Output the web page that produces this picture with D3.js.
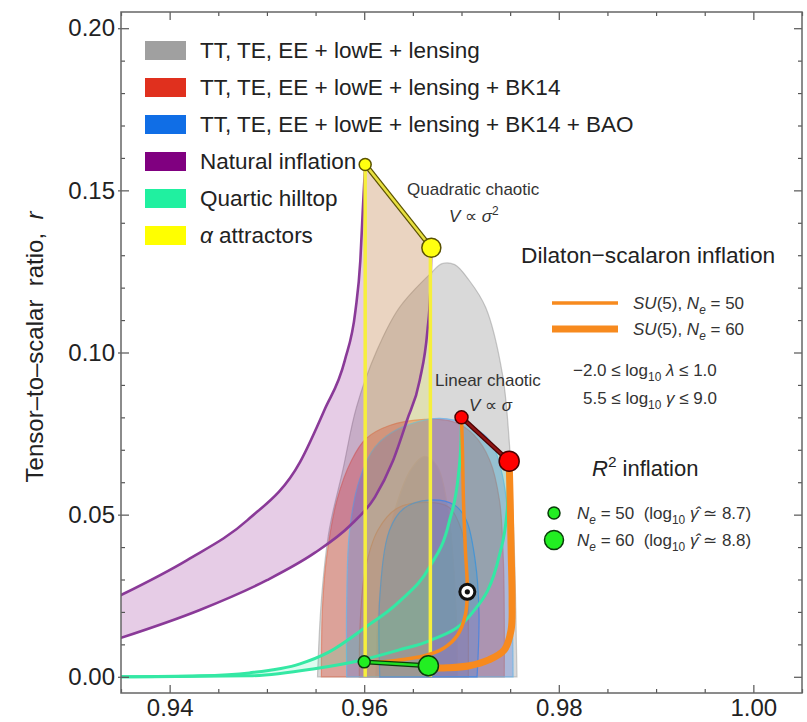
<!DOCTYPE html>
<html>
<head>
<meta charset="utf-8">
<script src="https://cdn.jsdelivr.net/npm/d3@7"></script>
<style>
body { margin: 0; background: #fff; }
svg { display: block; font-family: "Liberation Sans", Arial, sans-serif; }
</style>
</head>
<body>
<div id="chart"></div>
<script>
// ---- data (ns, r) ----
const xMajor = [0.94, 0.96, 0.98, 1.00];
const yMajor = [0.00, 0.05, 0.10, 0.15, 0.20];

// Planck contours
const gray95 = [[0.9552,0],[0.9556,0.0237],[0.9564,0.0452],[0.9578,0.0637],[0.9592,0.0831],[0.9613,0.1006],[0.9636,0.1138],[0.9669,0.1246],[0.9680,0.1274],[0.9693,0.1271],[0.9708,0.1222],[0.9725,0.1138],[0.9742,0.0935],[0.9749,0.0729],[0.9754,0.0422],[0.9757,0]];
const gray68 = [[0.9612,0],[0.9614,0.018],[0.9620,0.036],[0.9632,0.052],[0.9648,0.064],[0.9662,0.068],[0.9675,0.065],[0.9686,0.052],[0.9692,0.034],[0.9695,0.016],[0.9696,0]];
const red95 = [[0.9556,0],[0.9557,0.0206],[0.9561,0.0360],[0.9572,0.0545],[0.9587,0.0668],[0.9602,0.0735],[0.9626,0.0775],[0.9662,0.0794],[0.9693,0.0785],[0.9713,0.0745],[0.9729,0.0668],[0.9739,0.0545],[0.9743,0.0360],[0.9744,0.0175],[0.9744,0]];
const red68 = [[0.9595,0],[0.9596,0.0175],[0.9601,0.0329],[0.9614,0.0452],[0.9634,0.0520],[0.9664,0.0538],[0.9687,0.0523],[0.9700,0.0452],[0.9706,0.0329],[0.9707,0.0175],[0.9707,0]];
const blue95 = [[0.9582,0],[0.9582,0.0237],[0.9585,0.0452],[0.9595,0.0606],[0.9611,0.0708],[0.9636,0.0766],[0.9677,0.0797],[0.9708,0.0775],[0.9729,0.0729],[0.9742,0.0622],[0.9749,0.0452],[0.9752,0.0237],[0.9753,0]];
const blue68 = [[0.9616,0],[0.9616,0.0246],[0.9626,0.0452],[0.9641,0.0520],[0.9667,0.0545],[0.9693,0.0529],[0.9705,0.0483],[0.9714,0.0360],[0.9718,0.0197],[0.9716,0]];

// natural inflation
const natural50 = [[0.9350,0.0252],[0.9418,0.0360],[0.9480,0.0483],[0.9534,0.0662],[0.9559,0.0822],[0.9580,0.0975],[0.9591,0.1129],[0.9596,0.1283],[0.95985,0.1437],[0.9601,0.1580]];
const natural60 = [[0.9350,0.0120],[0.9431,0.0206],[0.9500,0.0298],[0.9549,0.0382],[0.9585,0.0465],[0.9611,0.0554],[0.9629,0.0662],[0.9644,0.0791],[0.9657,0.0914],[0.9665,0.1068],[0.9668,0.1191],[0.9669,0.1323]];

// quartic hilltop
const hilltop50 = [[0.9350,0],[0.9431,0.0003],[0.9482,0.0012],[0.9534,0.0040],[0.9564,0.0077],[0.9600,0.0150],[0.9636,0.0232],[0.9667,0.0338],[0.9687,0.0474],[0.9697,0.0628],[0.96995,0.0729],[0.9700,0.0800]];
const hilltop60 = [[0.9350,0],[0.9482,0.0003],[0.9549,0.0025],[0.9598,0.0052],[0.9636,0.0083],[0.9667,0.0111],[0.9711,0.0197],[0.9739,0.0375],[0.9747,0.0514],[0.9749,0.0665]];

// alpha attractors
const alphaRegion = [[0.9601,0],[0.9601,0.1580],[0.9668,0.1323],[0.9668,0]];

// dilaton-scalaron SU(5)
const su5N50 = [[0.9700,0.0800],[0.9701,0.0698],[0.9702,0.0545],[0.9704,0.0391],[0.9706,0.0268],[0.9704,0.0191],[0.9696,0.0129],[0.9682,0.0089],[0.9662,0.0065],[0.9636,0.0052],[0.9616,0.0046],[0.9600,0.0046]];
const su5N60 = [[0.9749,0.0665],[0.9750,0.0545],[0.9751,0.0391],[0.9752,0.0237],[0.9751,0.0145],[0.9744,0.0083],[0.9728,0.0052],[0.9708,0.0034],[0.9687,0.0028],[0.9672,0.0028],[0.9666,0.0034]];

// model points: [ns, r, radius]
const quadraticDots = [[0.9601,0.1580,6],[0.9669,0.1323,9.5]];
const linearDots = [[0.9700,0.0800,6.5],[0.9749,0.0665,10]];
const r2Dots = [[0.9600,0.0046,6],[0.9666,0.0034,10]];
const targetDot = [0.9706,0.0262];

const legendLabels = ["TT, TE, EE + lowE + lensing", "TT, TE, EE + lowE + lensing + BK14",
  "TT, TE, EE + lowE + lensing + BK14 + BAO", "Natural inflation", "Quartic hilltop", "attractors"];
const legendColors = ["#a0a0a0", "#e0301e", "#106ee6", "#800080", "#20f0a0", "#ffff00"];

// ---- chart ----
const W = 807, H = 722;
const plot = { left: 121, right: 802, top: 12, bottom: 693 };

const svg = d3.select("#chart").append("svg")
    .attr("width", W).attr("height", H);

const x = d3.scaleLinear().domain([0.935, 1.005]).range([plot.left, plot.right]);
const y = d3.scaleLinear().domain([-0.005, 0.205]).range([plot.bottom, plot.top]);

svg.append("defs").append("clipPath").attr("id", "clip")
    .append("rect")
    .attr("x", plot.left).attr("y", plot.top)
    .attr("width", plot.right - plot.left).attr("height", plot.bottom - plot.top);

const g = svg.append("g").attr("clip-path", "url(#clip)");

const smooth = d3.line().x(d => x(d[0])).y(d => y(d[1])).curve(d3.curveCatmullRom.alpha(0.5));
const mono = d3.line().x(d => x(d[0])).y(d => y(d[1])).curve(d3.curveMonotoneX);
const straight = d3.line().x(d => x(d[0])).y(d => y(d[1]));

// joins two open curves into one closed band
function band(gen, a, b) {
    return gen(a) + "L" + reversePath(b, gen).substring(1) + "Z";
}
// monotone curves are drawn in x order, so the return edge is traced by sampling
function reversePath(pts, gen) {
    const p = document.createElementNS("http://www.w3.org/2000/svg", "path");
    p.setAttribute("d", gen(pts));
    const len = p.getTotalLength(), out = [];
    for (let s = len; s >= 0; s -= 2) {
        const q = p.getPointAtLength(s);
        out.push(q.x.toFixed(1) + "," + q.y.toFixed(1));
    }
    const q0 = p.getPointAtLength(0);
    out.push(q0.x.toFixed(1) + "," + q0.y.toFixed(1));
    return "M" + out.join("L");
}

// contours
const contours = [
    { pts: gray95, fill: "rgba(128,128,128,0.30)", stroke: "rgba(150,150,150,0.5)" },
    { pts: gray68, fill: "rgba(128,128,128,0.20)", stroke: "rgba(215,205,180,0.8)" },
    { pts: red95, fill: "rgba(225,85,65,0.42)", stroke: "rgba(225,110,80,0.6)" },
    { pts: red68, fill: "rgba(220,90,70,0.25)", stroke: "rgba(225,120,70,0.8)" },
    { pts: blue95, fill: "rgba(90,125,220,0.36)", stroke: "rgba(110,180,230,0.8)" },
    { pts: blue68, fill: "rgba(70,130,220,0.30)", stroke: "rgba(60,130,230,0.8)" }
];
g.selectAll("path.contour")
    .data(contours)
    .join("path")
    .attr("class", "contour")
    .attr("d", d => smooth(d.pts) + "Z")
    .attr("fill", d => d.fill)
    .attr("stroke", d => d.stroke)
    .attr("stroke-width", 1.2);

// bands
g.append("path").attr("d", band(mono, natural50, natural60))
    .attr("fill", "rgba(128,0,128,0.20)");
g.append("path").attr("d", straight(alphaRegion) + "Z")
    .attr("fill", "rgba(255,255,0,0.16)");
g.append("path").attr("d", band(mono, hilltop50, hilltop60))
    .attr("fill", "rgba(40,235,160,0.16)");

// curves
function curve(gen, pts, color, width) {
    g.append("path").attr("d", gen(pts))
        .attr("fill", "none").attr("stroke", color)
        .attr("stroke-width", width).attr("stroke-linecap", "round");
}
curve(mono, natural50, "#8a3a98", 2.6);
curve(mono, natural60, "#8a3a98", 2.6);
curve(mono, hilltop50, "#34e8a4", 3);
curve(mono, hilltop60, "#34e8a4", 3);

[[alphaRegion[0], alphaRegion[1]], [alphaRegion[3], alphaRegion[2]]].forEach(seg => {
    g.append("path").attr("d", straight(seg))
        .attr("stroke", "#f6ef3c").attr("stroke-width", 3.5).attr("fill", "none");
});

curve(smooth, su5N50, "#f78a1e", 3.5);
curve(smooth, su5N60, "#f78a1e", 7);

// connectors with dots
function connector(dots, edge, color, fill, w) {
    const seg = dots.map(d => [d[0], d[1]]);
    g.append("path").attr("d", straight(seg)).attr("stroke", edge)
        .attr("stroke-width", w + 2.4).attr("fill", "none");
    g.append("path").attr("d", straight(seg)).attr("stroke", color)
        .attr("stroke-width", w).attr("fill", "none");
    g.selectAll(null).data(dots).join("circle")
        .attr("cx", d => x(d[0])).attr("cy", d => y(d[1])).attr("r", d => d[2])
        .attr("fill", fill).attr("stroke", edge).attr("stroke-width", 1.5);
}
connector(quadraticDots, "#5a5200", "#e8e040", "#ffff10", 2.6);
connector(linearDots, "#4a0000", "#8e1414", "#ff0000", 2.4);
connector(r2Dots, "#0a3a0a", "#22dd22", "#22ee22", 2.4);

g.append("circle").attr("cx", x(targetDot[0])).attr("cy", y(targetDot[1]))
    .attr("r", 7.5).attr("fill", "#fff").attr("stroke", "#111").attr("stroke-width", 3);
g.append("circle").attr("cx", x(targetDot[0])).attr("cy", y(targetDot[1]))
    .attr("r", 2.6).attr("fill", "#111");

// ---- axes ----
const xMinor = d3.range(0.935, 1.0051, 0.005).filter(v => !xMajor.some(m => Math.abs(m - v) < 1e-6));
const yMinor = d3.range(0, 0.2051, 0.01).filter(v => !yMajor.some(m => Math.abs(m - v) < 1e-6));

function styleAxis(sel) {
    sel.select(".domain").remove();
    sel.selectAll("line").attr("stroke", "#555").attr("stroke-width", 1.2);
    sel.selectAll("text").attr("fill", "#222").attr("font-size", 24)
        .attr("font-family", "Liberation Sans, Arial, sans-serif");
    sel.attr("font-size", null).attr("font-family", null);
}

svg.append("g").attr("transform", `translate(0,${plot.bottom})`)
    .call(d3.axisBottom(x).tickValues(xMajor).tickSize(-8).tickPadding(6).tickFormat(d3.format(".2f")))
    .call(styleAxis);
svg.append("g").attr("transform", `translate(0,${plot.bottom})`)
    .call(d3.axisBottom(x).tickValues(xMinor).tickSize(-4).tickFormat(""))
    .call(styleAxis);
svg.append("g").attr("transform", `translate(0,${plot.top})`)
    .call(d3.axisTop(x).tickValues(xMajor).tickSize(-8).tickFormat(""))
    .call(styleAxis);
svg.append("g").attr("transform", `translate(0,${plot.top})`)
    .call(d3.axisTop(x).tickValues(xMinor).tickSize(-4).tickFormat(""))
    .call(styleAxis);

svg.append("g").attr("transform", `translate(${plot.left},0)`)
    .call(d3.axisLeft(y).tickValues(yMajor).tickSize(-8).tickPadding(6).tickFormat(d3.format(".2f")))
    .call(styleAxis);
svg.append("g").attr("transform", `translate(${plot.left},0)`)
    .call(d3.axisLeft(y).tickValues(yMajor).tickSize(3).tickFormat(""))
    .call(styleAxis);
svg.append("g").attr("transform", `translate(${plot.left},0)`)
    .call(d3.axisLeft(y).tickValues(yMinor).tickSize(-4).tickFormat(""))
    .call(styleAxis);
svg.append("g").attr("transform", `translate(${plot.right},0)`)
    .call(d3.axisRight(y).tickValues(yMajor).tickSize(-8).tickFormat(""))
    .call(styleAxis);
svg.append("g").attr("transform", `translate(${plot.right},0)`)
    .call(d3.axisRight(y).tickValues(yMinor).tickSize(-4).tickFormat(""))
    .call(styleAxis);

svg.append("rect")
    .attr("x", plot.left).attr("y", plot.top)
    .attr("width", plot.right - plot.left).attr("height", plot.bottom - plot.top)
    .attr("fill", "none").attr("stroke", "#666").attr("stroke-width", 1.5);

// ---- text helpers ----
function rich(sel, parts, size) {
    let shift = 0;
    parts.forEach(p => {
        const target = p.sub ? size * 0.3 : p.sup ? -size * 0.42 : 0;
        const ts = sel.append("tspan").attr("dy", target - shift).text(p.t);
        shift = target;
        if (p.i) ts.attr("font-style", "italic");
        if (p.sub || p.sup) ts.attr("font-size", size * 0.7);
    });
}
function label(xp, yp, size, parts, color) {
    const t = svg.append("text").attr("x", xp).attr("y", yp)
        .attr("font-size", size).attr("fill", color || "#333")
        .style("white-space", "pre");
    rich(t, parts, size);
    return t;
}

// y title
svg.append("text")
    .attr("transform", "translate(43,347) rotate(-90)")
    .attr("text-anchor", "middle").attr("font-size", 24).attr("fill", "#222")
    .style("white-space", "pre")
    .call(t => rich(t, [{ t: "Tensor\u2013to\u2013scalar  ratio,  " }, { t: "r", i: true }], 24));

// legend
const legend = svg.append("g");
legend.selectAll("rect").data(legendColors).join("rect")
    .attr("x", 145).attr("y", (d, i) => 41 + i * 37)
    .attr("width", 41).attr("height", 19).attr("fill", d => d);
legend.selectAll("text").data(legendLabels).join("text")
    .attr("x", 200).attr("y", (d, i) => 58 + i * 37)
    .attr("font-size", 22.5).attr("fill", "#222")
    .each(function (d, i) {
        const t = d3.select(this);
        if (i === 5) rich(t, [{ t: "\u03b1", i: true }, { t: " " + d }], 22.5);
        else t.text(d);
    });

// annotations
label(407, 195, 17, [{ t: "Quadratic chaotic" }]);
label(449, 222, 17, [{ t: "V", i: true }, { t: " \u221d " }, { t: "\u03c3", i: true }, { t: "2", sup: true }]);
label(435, 386, 17, [{ t: "Linear chaotic" }]);
label(469, 411, 17, [{ t: "V", i: true }, { t: " \u221d " }, { t: "\u03c3", i: true }]);

label(521, 263, 22.7, [{ t: "Dilaton\u2212scalaron inflation" }], "#222");
svg.append("line").attr("x1", 552).attr("x2", 618).attr("y1", 303).attr("y2", 303)
    .attr("stroke", "#f78a1e").attr("stroke-width", 3.5);
svg.append("line").attr("x1", 552).attr("x2", 618).attr("y1", 329).attr("y2", 329)
    .attr("stroke", "#f78a1e").attr("stroke-width", 7);
label(633, 309, 17, [{ t: "SU", i: true }, { t: "(5), " }, { t: "N", i: true }, { t: "e", i: true, sub: true }, { t: " = 50" }]);
label(633, 335, 17, [{ t: "SU", i: true }, { t: "(5), " }, { t: "N", i: true }, { t: "e", i: true, sub: true }, { t: " = 60" }]);
label(573, 376, 17, [{ t: "\u22122.0 \u2264 log" }, { t: "10", sub: true }, { t: " " }, { t: "\u03bb", i: true }, { t: " \u2264 1.0" }]);
label(583, 404, 17, [{ t: "5.5 \u2264 log" }, { t: "10", sub: true }, { t: " " }, { t: "\u03b3", i: true }, { t: " \u2264 9.0" }]);

label(592, 476, 22, [{ t: "R", i: true }, { t: "2", sup: true }, { t: " inflation" }], "#222");
svg.append("circle").attr("cx", 554).attr("cy", 513).attr("r", 6)
    .attr("fill", "#22ee22").attr("stroke", "#0a3a0a").attr("stroke-width", 1.5);
svg.append("circle").attr("cx", 554).attr("cy", 540).attr("r", 9.5)
    .attr("fill", "#22ee22").attr("stroke", "#0a3a0a").attr("stroke-width", 1.5);
label(577, 519, 17, [{ t: "N", i: true }, { t: "e", i: true, sub: true }, { t: " = 50  (log" }, { t: "10", sub: true }, { t: " " }, { t: "\u03b3\u0302", i: true }, { t: " \u2243 8.7)" }]);
label(577, 546, 17, [{ t: "N", i: true }, { t: "e", i: true, sub: true }, { t: " = 60  (log" }, { t: "10", sub: true }, { t: " " }, { t: "\u03b3\u0302", i: true }, { t: " \u2243 8.8)" }]);
</script>
</body>
</html>
